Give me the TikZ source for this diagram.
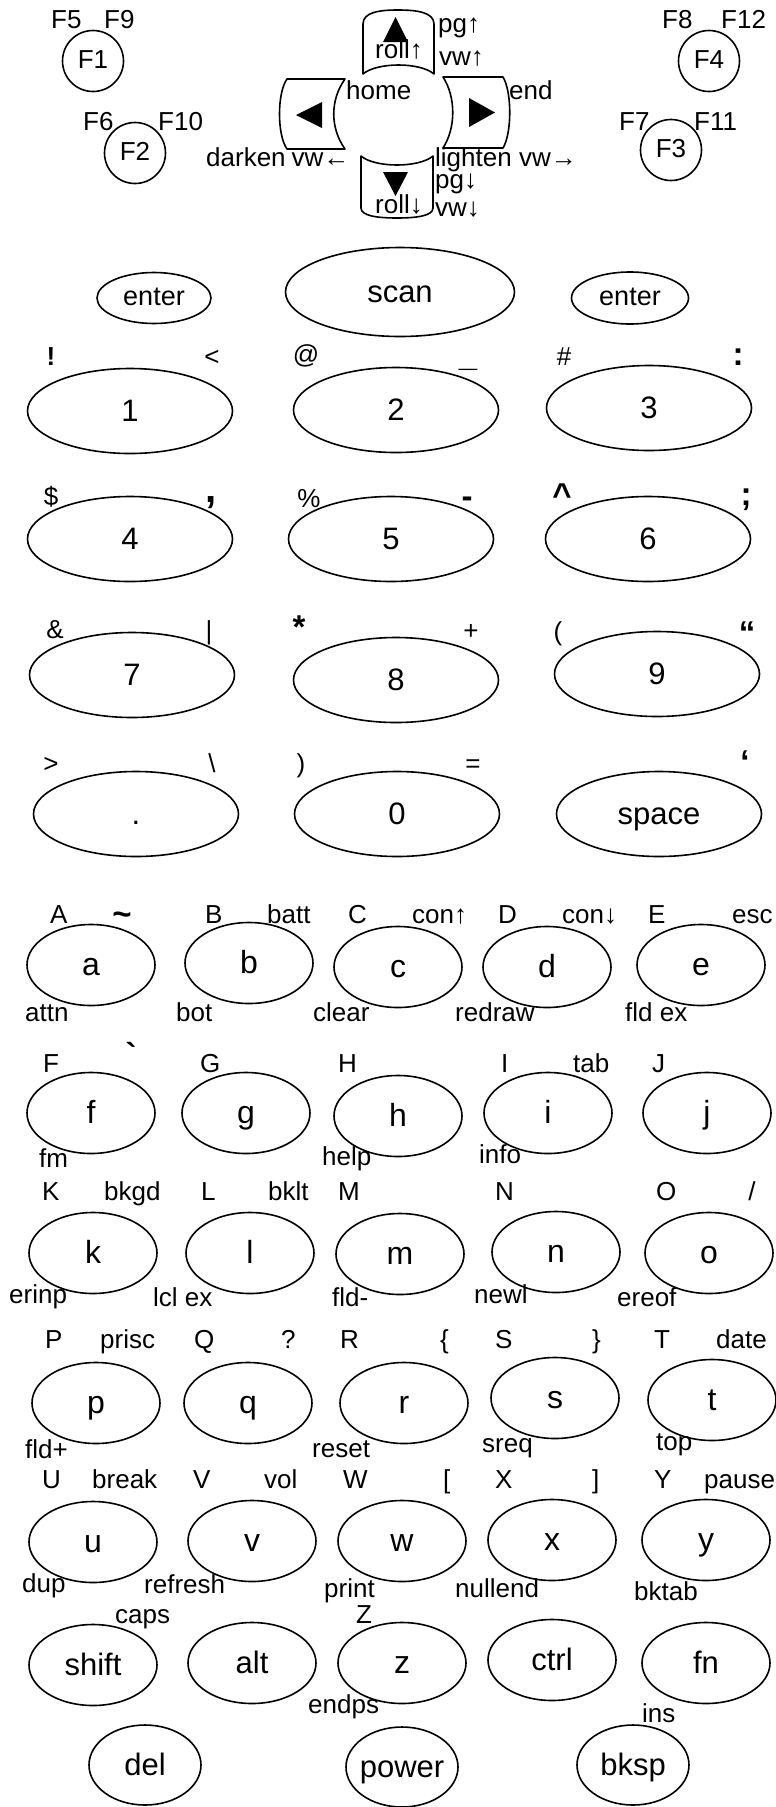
\documentclass[tikz,border=0pt]{standalone}
\usepackage{fontspec}
\setmainfont{Liberation Sans}
\usetikzlibrary{shapes.geometric}
\newcommand\Lb[4]{\node[lab] (#1) at (#2,#3) {#4};}
\newcommand\Sy[4]{\node[sym] (#1) at (#2,#3) {#4};}
\newcommand\Bs[4]{\node[bsym] (#1) at (#2,#3) {#4};}
\begin{document}
\begin{tikzpicture}[x=1pt,y=-1pt,
  key/.style={draw, ellipse, line width=1.6pt, inner sep=0pt, text height=25pt, text depth=4pt, font=\fontsize{31}{31}\selectfont},
  numkey/.style={key, minimum width=205pt, minimum height=85pt},
  letkey/.style={key, minimum width=128pt, minimum height=81pt, font=\fontsize{32}{32}\selectfont},
  botkey/.style={key, minimum width=112pt, minimum height=80pt},
  fkey/.style={key, minimum width=61pt, minimum height=61pt, text height=19pt, text depth=5pt, font=\fontsize{26}{26}\selectfont},
  lab/.style={inner sep=0pt, anchor=base west, font=\fontsize{26}{26}\selectfont},
  sym/.style={inner sep=0pt, anchor=base, font=\fontsize{26}{26}\selectfont},
  bsym/.style={inner sep=0pt, anchor=base, font=\fontsize{33}{33}\selectfont\bfseries},
  dkey/.style={line width=1.6pt, line join=round},
]
\useasboundingbox (0,0) rectangle (776,1807);

% ---------- function keys ----------
\node[fkey] (F1) at (93,61) {F1};
\node[fkey] (F2) at (135,153) {F2};
\node[fkey] (F3) at (671,150) {F3};
\node[fkey] (F4) at (709,61) {F4};
\Lb{F5}{51}{28}{F5} \Lb{F9}{104}{28}{F9}
\Lb{F6}{83}{130}{F6} \Lb{F10}{158}{130}{F10}
\Lb{F7}{619}{130}{F7} \Lb{F11}{694}{130}{F11}
\Lb{F8}{662}{28}{F8} \Lb{F12}{721}{28}{F12}

% ---------- d-pad ----------
\draw[dkey] (363,74) -- (363,24) .. controls (363,12) and (380,10) .. (398,10) .. controls (416,10) and (434,12) .. (434,24) -- (434,74) .. controls (420,62) and (377,62) .. (363,74) -- cycle;
\draw[dkey] (287,79) -- (345,79) .. controls (330,100) and (330,128) .. (345,149) -- (287,149) .. controls (277,135) and (277,93) .. (287,79) -- cycle;
\draw[dkey] (443,77) -- (503,77) .. controls (512,92) and (512,133) .. (503,148) -- (443,148) .. controls (456,128) and (456,97) .. (443,77) -- cycle;
\draw[dkey] (361,156) .. controls (375,168) and (419,168) .. (433,156) -- (433,208) .. controls (433,216) and (416,218) .. (397,218) .. controls (378,218) and (361,216) .. (361,208) -- cycle;
\fill (383,42) -- (408,42) -- (395.5,17) -- cycle;
\fill (296,115) -- (322,102) -- (322,128) -- cycle;
\fill (469,98) -- (469,127) -- (495,112.5) -- cycle;
\fill (383,172) -- (408,172) -- (395.5,196) -- cycle;
\Lb{pgup}{438}{32}{pg↑}
\Lb{vwup}{439}{65}{vw↑}
\Lb{rollup}{375}{58}{roll↑}
\Lb{home}{346}{99}{home}
\Lb{endk}{509}{99}{end}
\Lb{darken}{206}{166}{darken\hspace{6pt}vw←}
\Lb{lighten}{435}{166}{lighten vw→}
\Lb{pgdn}{435}{188}{pg↓}
\Lb{rolldn}{375}{213}{roll↓}
\Lb{vwdn}{435}{216}{vw↓}

% ---------- enter / scan ----------
\node[key, minimum width=114pt, minimum height=51pt, text height=19pt, text depth=5pt, font=\fontsize{27}{27}\selectfont] (enterL) at (154,298) {enter};
\node[key, minimum width=229pt, minimum height=89pt] (scan) at (400,292) {scan};
\node[key, minimum width=117pt, minimum height=52pt, text height=19pt, text depth=5pt, font=\fontsize{27}{27}\selectfont] (enterR) at (630,298) {enter};

% ---------- number keys ----------
\node[numkey] (k1) at (130,411) {1};
\node[numkey] (k2) at (396,410) {2};
\node[numkey] (k3) at (649,408) {3};
\node[numkey] (k4) at (130,539) {4};
\node[numkey] (k5) at (391,539) {5};
\node[numkey] (k6) at (648,539) {6};
\node[numkey] (k7) at (132,675) {7};
\node[numkey] (k8) at (396,680) {8};
\node[numkey] (k9) at (657,674) {9};
\node[numkey] (kdot) at (136,814) {.};
\node[numkey] (k0) at (397,814) {0};
\node[numkey] (kspace) at (659,814) {space};

\Sy{s1a}{51}{365}{\bfseries !}
\Sy{s1b}{212}{365}{<}
\Sy{s2a}{306}{363}{@}
\Bs{s2b}{468}{366}{\_}
\Sy{s3a}{564}{365}{\#}
\Bs{s3b}{738}{365}{:}
\Sy{s4a}{51}{505}{\$}
\Bs{s4b}{211}{502}{\fontsize{40}{40}\selectfont ,}
\Sy{s5a}{309}{507}{\%}
\Bs{s5b}{467}{507}{-}
\Bs{s6a}{562}{506}{\textasciicircum}
\Bs{s6b}{746}{505}{;}
\Sy{s7a}{55}{638}{\&}
\Sy{s7b}{209}{639}{|}
\Bs{s8a}{299}{638}{*}
\Sy{s8b}{471}{639}{+}
\Sy{s9a}{558}{640}{(}
\Bs{s9b}{747}{644}{“}
\Sy{s10a}{51}{772}{>}
\Sy{s10b}{212}{772}{\textbackslash}
\Sy{s11a}{301}{772}{)}
\Sy{s11b}{473}{772}{=}
\Bs{s12b}{745}{773}{‘}

% ---------- letter keys ----------
\node[letkey] (ka) at (91,965) {a};
\node[letkey] (kb) at (249,963) {b};
\node[letkey] (kc) at (398,967) {c};
\node[letkey] (kd) at (547,967) {d};
\node[letkey] (ke) at (701,965) {e};
\node[letkey] (kf) at (91,1113) {f};
\node[letkey] (kg) at (246,1113) {g};
\node[letkey] (kh) at (398,1116) {h};
\node[letkey] (ki) at (548,1113) {i};
\node[letkey] (kj) at (707,1113) {j};
\node[letkey] (kk) at (93,1253) {k};
\node[letkey] (kl) at (250,1253) {l};
\node[letkey] (km) at (400,1254) {m};
\node[letkey] (kn) at (556,1252) {n};
\node[letkey] (ko) at (709,1253) {o};
\node[letkey] (kp) at (96,1403) {p};
\node[letkey] (kq) at (248,1403) {q};
\node[letkey] (kr) at (404,1403) {r};
\node[letkey] (ks) at (555,1398) {s};
\node[letkey] (kt) at (712,1400) {t};
\node[letkey] (ku) at (93,1542) {u};
\node[letkey] (kv) at (252,1541) {v};
\node[letkey] (kw) at (402,1541) {w};
\node[letkey] (kx) at (552,1540) {x};
\node[letkey] (ky) at (706,1540) {y};
\node[letkey, font=\fontsize{31}{31}\selectfont] (kshift) at (93,1665) {shift};
\node[letkey, font=\fontsize{31}{31}\selectfont] (kalt) at (252,1663) {alt};
\node[letkey] (kz) at (402,1663) {z};
\node[letkey, font=\fontsize{31}{31}\selectfont] (kctrl) at (552,1660) {ctrl};
\node[letkey, font=\fontsize{31}{31}\selectfont] (kfn) at (706,1663) {fn};
\node[botkey] (kdel) at (145,1765) {del};
\node[botkey] (kpower) at (402,1767) {\makebox[0pt]{power}};
\node[botkey] (kbksp) at (633,1765) {bksp};

% row a labels
\Lb{uA}{50}{923}{A}
\Bs{tilde}{122}{925}{\textasciitilde}
\Lb{uB}{205}{923}{B} \Lb{batt}{267}{923}{batt}
\Lb{uC}{348}{923}{C} \Lb{conup}{412}{923}{con↑}
\Lb{uD}{498}{923}{D} \Lb{condn}{562}{923}{con↓}
\Lb{uE}{648}{923}{E} \Lb{esc}{732}{923}{esc}
\Lb{attn}{25}{1021}{attn} \Lb{bot}{176}{1021}{bot} \Lb{clear}{313}{1021}{clear}
\Lb{redraw}{455}{1021}{redraw} \Lb{fldex}{625}{1021}{fld ex}
% row f labels
\Bs{grave}{131}{1066}{\textasciigrave}
\Lb{uF}{43}{1072}{F} \Lb{uG}{200}{1072}{G} \Lb{uH}{338}{1072}{H}
\Lb{uI}{501}{1072}{I} \Lb{tab}{573}{1072}{tab} \Lb{uJ}{652}{1072}{J}
\Lb{fm}{39}{1167}{fm} \Lb{help}{322}{1165}{help} \Lb{info}{479}{1163}{info}
% row k labels
\Lb{uK}{42}{1200}{K} \Lb{bkgd}{104}{1200}{bkgd} \Lb{uL}{201}{1200}{L} \Lb{bklt}{268}{1200}{bklt}
\Lb{uM}{338}{1200}{M} \Lb{uN}{495}{1200}{N} \Lb{uO}{656}{1200}{O} \Sy{slash}{752}{1200}{/}
\Lb{erinp}{9}{1303}{erinp} \Lb{lclex}{153}{1306}{lcl ex} \Lb{fldm}{332}{1306}{fld-}
\Lb{newl}{474}{1303}{newl} \Lb{ereof}{617}{1306}{ereof}
% row p labels
\Lb{uP}{45}{1348}{P} \Lb{prisc}{100}{1348}{prisc} \Lb{uQ}{194}{1348}{Q} \Lb{qmark}{281}{1348}{?}
\Lb{uR}{340}{1348}{R} \Lb{lbrace}{440}{1348}{\{} \Lb{uS}{495}{1348}{S} \Lb{rbrace}{592}{1348}{\}}
\Lb{uT}{654}{1348}{T} \Lb{date}{716}{1348}{date}
\Lb{fldp}{25}{1458}{fld+} \Lb{reset}{312}{1457}{reset} \Lb{sreq}{482}{1452}{sreq} \Lb{topl}{656}{1450}{top}
% row u labels
\Lb{uU}{42}{1488}{U} \Lb{break}{92}{1488}{break} \Lb{uV}{193}{1488}{V} \Lb{vol}{264}{1488}{vol}
\Lb{uW}{343}{1488}{W} \Lb{lbrack}{443}{1488}{[} \Lb{uX}{495}{1488}{X} \Lb{rbrack}{592}{1488}{]}
\Lb{uY}{654}{1488}{Y} \Lb{pause}{704}{1488}{pause}
\Lb{dup}{22}{1592}{dup} \Lb{refresh}{144}{1593}{refresh} \Lb{print}{324}{1597}{print}
\Lb{nullend}{455}{1597}{nullend} \Lb{bktab}{634}{1600}{bktab}
\Lb{caps}{115}{1623}{caps} \Lb{uZ}{356}{1623}{Z}
\Lb{endps}{308}{1713}{endps} \Lb{ins}{642}{1722}{ins}
\end{tikzpicture}
\end{document}
